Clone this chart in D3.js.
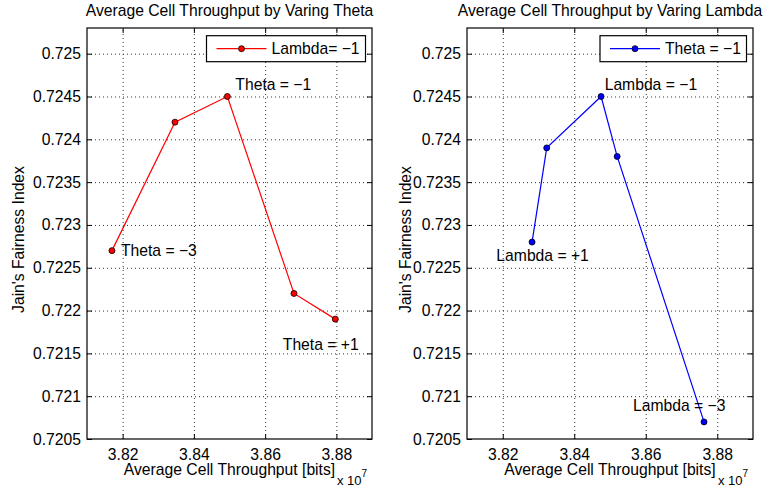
<!DOCTYPE html>
<html>
<head>
<meta charset="utf-8">
<script src="https://cdnjs.cloudflare.com/ajax/libs/d3/7.8.5/d3.min.js"></script>
<style>
  body { margin: 0; background: #fff; }
  text { font-family: "Liberation Sans", Arial, sans-serif; fill: #000; }
</style>
</head>
<body>
<div id="chart"></div>
<script>
// throughput in bits, fairness index
const thetaX = [38170000, 38347000, 38494000, 38681000, 38797000];
const thetaY = [0.7227, 0.7242, 0.7245, 0.7222, 0.7219];
const thetaNotes = ["Theta = \u22123", null, "Theta = \u22121", null, "Theta = +1"];

const lambdaX = [38282000, 38323000, 38475000, 38520000, 38763000];
const lambdaY = [0.7228, 0.7239, 0.7245, 0.7238, 0.7207];
const lambdaNotes = ["Lambda = +1", null, "Lambda = \u22121", null, "Lambda = \u22123"];

const xTicks = [38200000, 38400000, 38600000, 38800000];
const yTicks = [0.7205, 0.721, 0.7215, 0.722, 0.7225, 0.723, 0.7235, 0.724, 0.7245, 0.725];
const xDomain = [38100000, 38900000];
const yDomain = [0.7205, 0.72530];

const W = 767, H = 490;
const svg = d3.select("#chart").append("svg")
    .attr("width", W).attr("height", H);

function drawPanel(cfg) {
    const w = cfg.right - cfg.left, h = cfg.bottom - cfg.top;
    const g = svg.append("g").attr("transform", `translate(${cfg.left},${cfg.top})`);

    const x = d3.scaleLinear().domain(xDomain).range([0, w]);
    const y = d3.scaleLinear().domain(yDomain).range([h, 0]);

    // grid
    g.append("g")
        .attr("transform", `translate(0,${h})`)
        .call(d3.axisBottom(x).tickValues(xTicks).tickSize(-h).tickFormat(""))
        .call(a => a.select(".domain").remove())
        .selectAll("line").attr("stroke", "#333").attr("stroke-dasharray", "1,3");
    g.append("g")
        .call(d3.axisLeft(y).tickValues(yTicks.slice(1)).tickSize(-w).tickFormat(""))
        .call(a => a.select(".domain").remove())
        .selectAll("line").attr("stroke", "#333").attr("stroke-dasharray", "1,3");

    // axes with inward ticks
    const bx = g.append("g").attr("transform", `translate(0,${h})`)
        .call(d3.axisBottom(x).tickValues(xTicks).tickSizeInner(-5).tickSizeOuter(0)
            .tickPadding(9.5).tickFormat(d => d3.format(".2f")(d / 1e7)));
    const lx = g.append("g")
        .call(d3.axisLeft(y).tickValues(yTicks).tickSizeInner(-5).tickSizeOuter(0)
            .tickPadding(6).tickFormat(d => String(+d.toFixed(4))));
    const tx = g.append("g")
        .call(d3.axisTop(x).tickValues(xTicks).tickSizeInner(-5).tickSizeOuter(0).tickFormat(""));
    const rx = g.append("g").attr("transform", `translate(${w},0)`)
        .call(d3.axisRight(y).tickValues(yTicks).tickSizeInner(-5).tickSizeOuter(0).tickFormat(""));
    [bx, lx, tx, rx].forEach(a => {
        a.select(".domain").remove();
        a.selectAll("text").attr("font-size", 15.7).attr("font-family", null);
        a.selectAll("line").attr("stroke", "#000");
    });

    g.append("rect").attr("width", w).attr("height", h)
        .attr("fill", "none").attr("stroke", "#000").attr("stroke-width", 1.2);

    // series
    const pts = cfg.xs.map((v, i) => ({ x: v, y: cfg.ys[i], note: cfg.notes[i] }));
    g.append("path").datum(pts)
        .attr("fill", "none").attr("stroke", cfg.color).attr("stroke-width", 1.2)
        .attr("d", d3.line().x(d => x(d.x)).y(d => y(d.y)));
    g.selectAll("circle.pt").data(pts).join("circle")
        .attr("cx", d => x(d.x)).attr("cy", d => y(d.y)).attr("r", 3)
        .attr("fill", cfg.color).attr("stroke", "#000").attr("stroke-width", 0.8);

    // point notes
    pts.forEach((d, i) => {
        if (!d.note) return;
        const off = cfg.noteOffsets[i];
        g.append("text").attr("x", x(d.x) + off[0]).attr("y", y(d.y) + off[1])
            .attr("font-size", 15.7).text(d.note);
    });

    // title and labels
    g.append("text").attr("x", w / 2).attr("y", -12).attr("text-anchor", "middle")
        .attr("font-size", 15.7).text(cfg.title);
    g.append("text").attr("x", w / 2).attr("y", h + 36).attr("text-anchor", "middle")
        .attr("font-size", 15.7).text("Average Cell Throughput [bits]");
    const ex = g.append("text").attr("x", w - 35).attr("y", h + 46).attr("font-size", 13);
    ex.append("tspan").text("x 10");
    ex.append("tspan").attr("dy", -8).attr("font-size", 10).text("7");
    g.append("text")
        .attr("transform", `translate(${cfg.ylabelX},${h / 2 + 6}) rotate(-90)`)
        .attr("text-anchor", "middle").attr("font-size", 15.7)
        .text("Jain's Fairness Index");

    // legend
    const lg = g.append("g").attr("transform", `translate(${w - 6.5 - cfg.legendW},7.7)`);
    lg.append("rect").attr("width", cfg.legendW).attr("height", 26)
        .attr("fill", "#fff").attr("stroke", "#000").attr("stroke-width", 1.2);
    lg.append("line").attr("x1", 10).attr("x2", 60).attr("y1", 13).attr("y2", 13)
        .attr("stroke", cfg.color).attr("stroke-width", 1.2);
    lg.append("circle").attr("cx", 35).attr("cy", 13).attr("r", 3)
        .attr("fill", cfg.color).attr("stroke", "#000").attr("stroke-width", 0.8);
    lg.append("text").attr("x", 65).attr("y", 18.8).attr("font-size", 15.7).text(cfg.legend);
}

drawPanel({
    left: 87, right: 372, top: 28, bottom: 439, ylabelX: -63,
    xs: thetaX, ys: thetaY, notes: thetaNotes,
    noteOffsets: [[9, 5.5], null, [8, -7], null, [-52.5, 31]],
    color: "#ff0000",
    title: "Average Cell Throughput by Varing Theta",
    legend: "Lambda= \u22121", legendW: 159
});
drawPanel({
    left: 467, right: 753, top: 28, bottom: 439, ylabelX: -56,
    xs: lambdaX, ys: lambdaY, notes: lambdaNotes,
    noteOffsets: [[-35.7, 18.5], null, [3.6, -7], null, [-71, -11]],
    color: "#0000ff",
    title: "Average Cell Throughput by Varing Lambda",
    legend: "Theta = \u22121", legendW: 146.5
});
</script>
</body>
</html>
